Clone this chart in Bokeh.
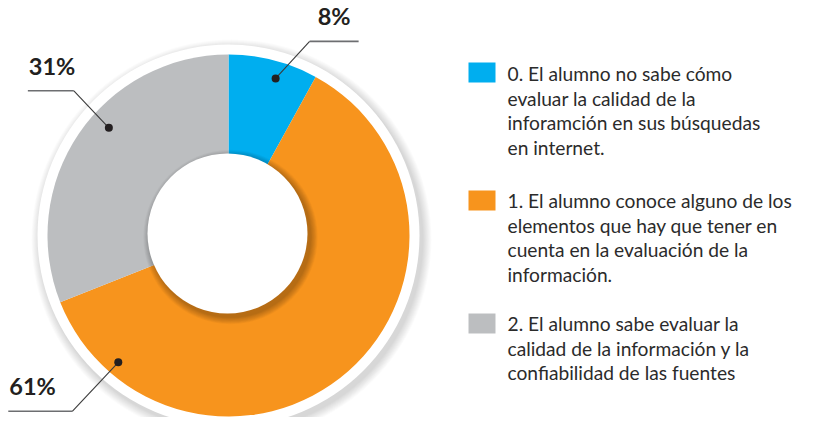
import math
from bokeh.plotting import figure
from bokeh.models import Range1d, ColumnDataSource
from bokeh.core.properties import value
from bokeh.embed import file_html
from bokeh.resources import INLINE

# ---- data ----
categories = ["0", "1", "2"]
percents = [8, 61, 31]
colors = ["#00AEEF", "#F7941D", "#BCBEC0"]
pct_labels = ["8%", "61%", "31%"]
legend_lines = [
    ["0. El alumno no sabe cómo", "evaluar la calidad de la",
     "inforamción en sus búsquedas", "en internet."],
    ["1. El alumno conoce alguno de los", "elementos que hay que tener en",
     "cuenta en la evaluación de la", "información."],
    ["2. El alumno sabe evaluar la", "calidad de la información y la",
     "confiabilidad de las fuentes"],
]

W, H = 805, 417
TOP = 425  # screen y -> data y = TOP - screen_y

def sy(y):
    return TOP - y

p = figure(width=W, height=H, output_backend="svg", toolbar_location=None,
           x_range=Range1d(0, W), y_range=Range1d(TOP - H, TOP),
           min_border=0)
p.axis.visible = False
p.grid.visible = False
p.outline_line_color = None
p.background_fill_color = "white"
p.border_fill_color = "white"

cx, cy = 228, sy(235)
R_OUT, R_IN, R_WHITE = 181, 80, 191
hx, hy = 227, sy(233)

# outer soft shadow
for k in range(10, 0, -1):
    p.circle(x=cx + 3, y=cy - 4, radius=R_WHITE + k * 0.9,
             fill_color="black", fill_alpha=0.016, line_color=None)
p.circle(x=cx, y=cy, radius=R_WHITE, fill_color="white", line_color=None)

# slices
total = float(sum(percents))
starts, ends = [], []
cum = 0.0
for v in percents:
    a0 = math.pi / 2 - 2 * math.pi * cum / total
    cum += v
    a1 = math.pi / 2 - 2 * math.pi * cum / total
    starts.append(a1)
    ends.append(a0)
src = ColumnDataSource(dict(cat=categories, start=starts, end=ends, color=colors))
p.wedge(x=cx, y=cy, radius=R_OUT, start_angle="start", end_angle="end",
        fill_color="color", line_color=None, source=src)

# inner shadow around hole
for k in range(9, 0, -1):
    p.circle(x=hx + 3, y=hy - 3.5, radius=R_IN + k * 0.8,
             fill_color="black", fill_alpha=0.03, line_color=None)
p.circle(x=hx, y=hy, radius=R_IN, fill_color="white", line_color=None)

# ---- percentage labels with leaders ----
# (angle deg, radius) of dot, elbow offset (dx, dy screen), horizontal length/direction
leaders = [
    (73.3, 164, (34, -37), 49, "right"),
    (229.0, 168, (-46, 49), -64, "left"),
    (138.0, 161, (-35, -37), -46, "left"),
]
for i, (ang, r, (edx, edy), hl, side) in enumerate(leaders):
    dx = cx + r * math.cos(math.radians(ang))
    dy = cy + r * math.sin(math.radians(ang))
    ex, ey = dx + edx, dy - edy
    hx2 = ex + hl
    p.line(x=[dx, ex], y=[dy, ey], line_color="#3a3a3a", line_width=1.1)
    p.line(x=[ex, hx2], y=[ey, ey], line_color="#6d6e71", line_width=1.6)
    p.scatter(x=[dx], y=[dy], size=8, marker="circle", fill_color="#231F20",
              line_color=None)
    tx = min(ex, hx2) + 1 if side == "left" else ex + 8
    p.text(x=[tx], y=[ey + 11], text=[pct_labels[i]], text_font=value("Lato"),
           text_font_style="bold", text_font_size="23.5px", text_color="#231F20",
           text_baseline="bottom", text_align="left")

# ---- legend ----
sq_top = [62, 190, 313]
line_start = [73, 200, 323]
LH = 24.7
for i in range(3):
    t = sq_top[i]
    p.quad(left=468, right=495, top=sy(t), bottom=sy(t + 20),
           fill_color=colors[i], line_color=None)
    ys = [sy(line_start[i] + j * LH) for j in range(len(legend_lines[i]))]
    p.text(x=[507] * len(ys), y=ys, text=legend_lines[i],
           text_font=value("Lato"), text_font_size="19.2px",
           text_color="#2b2b2b", text_baseline="middle", text_align="left")

open("out.html", "w").write(file_html(p, INLINE))
